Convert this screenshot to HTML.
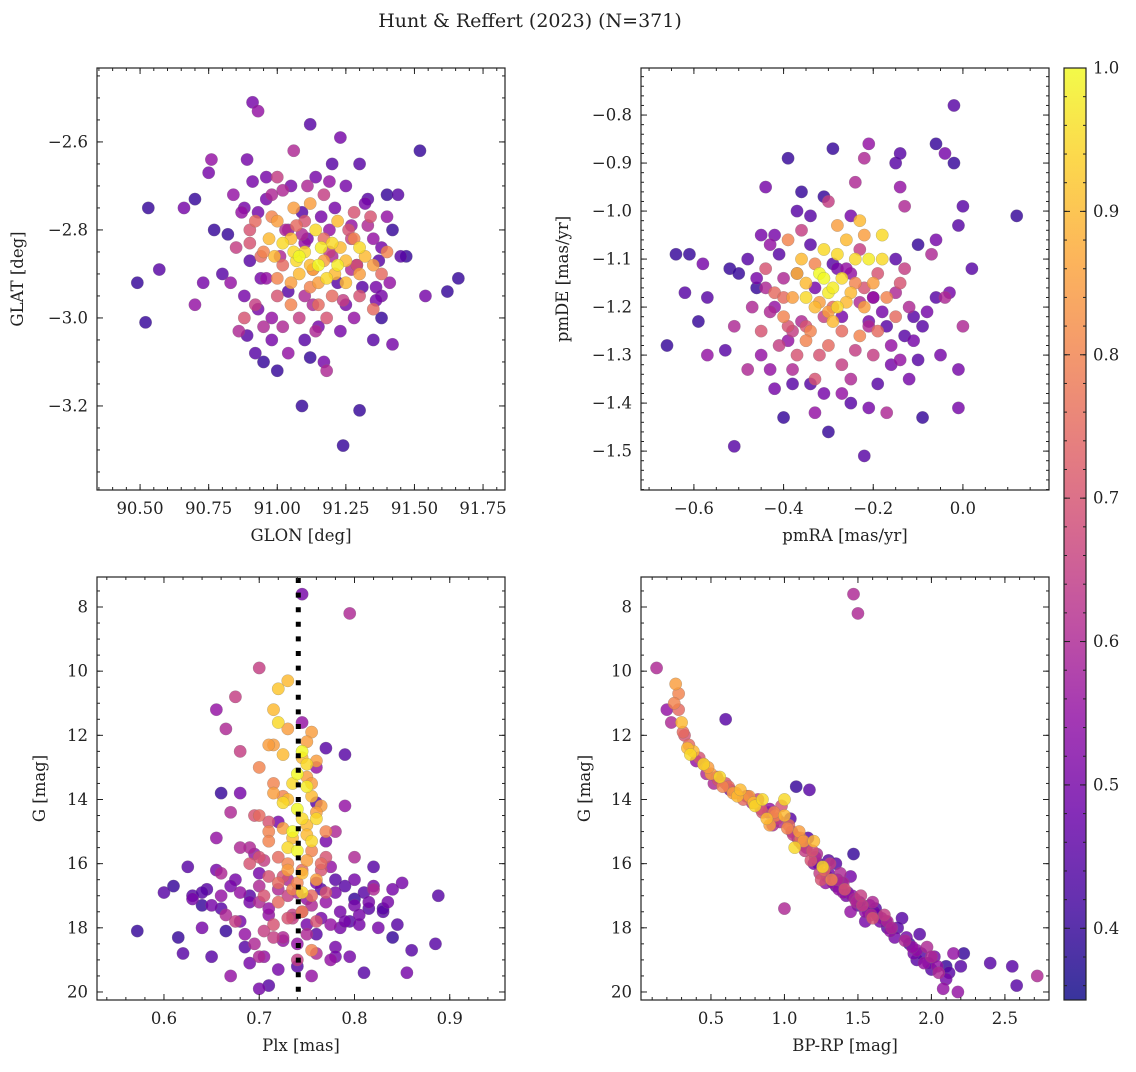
<!DOCTYPE html>
<html><head><meta charset="utf-8">
<style>
body{margin:0;background:#fff;}
svg text{font-family:"DejaVu Serif","Liberation Serif",serif;fill:#222;}
</style></head>
<body>
<svg id="fig" width="1136" height="1067" viewBox="0 0 1136 1067" xmlns="http://www.w3.org/2000/svg">
<rect width="1136" height="1067" fill="#fff"/>
<text x="530" y="27" font-size="19" text-anchor="middle">Hunt &amp; Reffert (2023) (N=371)</text>
<defs>
<linearGradient id="cbgrad" x1="0" y1="1" x2="0" y2="0">
<stop offset="0" stop-color="#0d0887"/><stop offset="0.1" stop-color="#41049d"/><stop offset="0.2" stop-color="#6a00a8"/><stop offset="0.3" stop-color="#8f0da4"/><stop offset="0.4" stop-color="#b12a90"/><stop offset="0.5" stop-color="#cc4778"/><stop offset="0.6" stop-color="#e16462"/><stop offset="0.7" stop-color="#f2844b"/><stop offset="0.8" stop-color="#fca636"/><stop offset="0.9" stop-color="#fcce25"/><stop offset="1" stop-color="#f0f921"/>
</linearGradient>
</defs>
</svg>
<script>
// ---- Panel 1: GLON / GLAT ----
const p1Lon=[90.49,90.52,90.53,90.57,90.66,90.70,90.70,90.73,90.75,90.76,90.77,90.82,90.83,90.86,90.88,90.89,90.91,90.93,90.89,90.92,90.95,90.96,90.90,90.93,90.98,91.00,91.02,91.06,91.04,91.09,91.12,91.12,91.17,91.18,91.20,91.23,91.24,91.30,91.30,91.32,91.35,91.38,91.40,91.42,91.42,91.45,91.47,91.52,91.54,91.62,91.66,90.93,90.96,91.15,91.28,91.36,91.38,91.05,91.25,91.40,90.88,91.14,91.35,90.95,91.10,
91.0,91.05,91.1,91.15,91.2,91.25,91.3,91.08,91.12,91.18,91.22,90.95,91.02,91.28,91.32,91.06,91.14,90.92,90.97,91.1,91.2,91.25,91.35,91.0,91.05,91.15,90.9,91.3,91.4,91.08,91.16,91.02,91.22,91.12,90.85,91.3,91.35,90.88,91.18,91.0,91.28,91.38,91.12,91.05,91.2,90.98,91.17,91.1,
90.87,90.90,90.94,90.98,91.01,91.04,91.07,91.10,91.13,91.16,91.19,91.22,91.26,91.29,91.33,91.37,91.41,90.92,90.96,91.00,91.04,91.09,91.13,91.17,91.21,91.24,91.27,91.31,91.34,91.38,90.99,91.03,91.07,91.11,91.15,91.19,91.23,91.27,90.94,91.06,91.13,91.21,91.29,91.09,91.17,90.84,90.80,91.44,91.36,90.98,91.02,91.25,91.33,91.14,91.08,90.91,91.19,91.23,91.27,91.11];
const p1Lat=[-2.92,-3.01,-2.75,-2.89,-2.75,-2.73,-2.97,-2.92,-2.67,-2.64,-2.80,-2.81,-2.92,-3.03,-2.75,-2.64,-2.51,-2.53,-3.04,-3.08,-3.10,-2.68,-2.87,-2.98,-3.05,-3.12,-3.02,-2.62,-3.08,-3.20,-2.56,-3.09,-3.10,-3.12,-2.65,-2.59,-3.29,-3.21,-2.65,-2.74,-3.05,-3.00,-2.72,-3.06,-2.80,-2.86,-2.86,-2.62,-2.95,-2.94,-2.91,-2.76,-2.91,-3.02,-3.00,-2.93,-2.84,-2.70,-2.70,-2.77,-2.95,-2.68,-2.82,-3.02,-3.05,
-2.78,-2.82,-2.85,-2.88,-2.83,-2.87,-2.9,-2.9,-2.93,-2.91,-2.78,-2.85,-2.88,-2.82,-2.86,-2.75,-2.8,-2.78,-2.82,-2.78,-2.95,-2.92,-2.88,-2.95,-2.97,-2.97,-2.8,-2.84,-2.85,-2.86,-2.84,-2.83,-2.88,-2.74,-2.84,-2.95,-2.98,-3.0,-3.0,-2.68,-2.76,-2.9,-2.88,-2.92,-2.86,-2.72,-2.72,-2.95,
-2.76,-2.83,-2.91,-2.77,-2.86,-2.94,-2.79,-2.83,-2.89,-2.77,-2.85,-2.92,-2.80,-2.88,-2.79,-2.87,-2.92,-2.97,-2.73,-2.91,-2.80,-2.76,-2.97,-2.82,-2.75,-2.96,-2.79,-2.93,-2.77,-2.95,-2.86,-2.80,-2.87,-2.82,-2.92,-2.80,-2.84,-2.89,-2.86,-2.85,-2.89,-2.90,-2.88,-2.81,-2.87,-2.72,-2.90,-2.72,-2.96,-3.00,-2.71,-2.97,-2.73,-3.03,-3.00,-2.69,-2.69,-3.03,-2.82,-2.70];
const p1Prob=[0.4,0.4,0.4,0.45,0.5,0.4,0.55,0.5,0.5,0.55,0.4,0.4,0.55,0.6,0.5,0.5,0.5,0.55,0.45,0.45,0.4,0.5,0.45,0.5,0.5,0.4,0.6,0.6,0.55,0.4,0.45,0.4,0.5,0.6,0.45,0.5,0.4,0.4,0.45,0.5,0.45,0.4,0.4,0.5,0.4,0.45,0.4,0.4,0.5,0.4,0.4,0.5,0.55,0.5,0.55,0.5,0.5,0.5,0.5,0.55,0.5,0.5,0.55,0.6,0.45,
0.85,0.9,0.95,1.0,0.95,0.9,0.85,0.9,0.8,0.95,0.9,0.8,0.75,0.8,0.9,0.85,0.95,0.75,0.9,0.7,0.75,0.9,0.85,0.7,0.8,0.75,0.7,0.95,0.8,1.0,0.98,0.95,0.98,0.85,0.65,0.7,0.75,0.7,0.7,0.65,0.7,0.75,0.9,0.85,0.6,0.6,0.65,0.6,
0.55,0.7,0.5,0.8,0.6,0.45,0.75,0.55,0.85,0.5,0.65,0.45,0.7,0.5,0.6,0.45,0.55,0.65,0.5,0.8,0.55,0.45,0.6,0.75,0.5,0.65,0.55,0.45,0.7,0.5,0.9,0.6,0.95,0.5,0.85,0.55,0.9,0.6,0.75,0.95,0.8,0.9,0.7,0.6,0.85,0.55,0.45,0.45,0.5,0.55,0.6,0.5,0.45,0.6,0.65,0.5,0.55,0.5,0.65,0.6];
const p1XTicks=[90.50,90.75,91.00,91.25,91.50,91.75];
const p1YTicks=[-2.6,-2.8,-3.0,-3.2];

// ---- Panel 2: pmRA / pmDE ----
const p2Ra=[-0.66,-0.64,-0.61,-0.62,-0.59,-0.58,-0.57,-0.57,-0.53,-0.52,-0.51,-0.51,-0.5,-0.48,-0.46,-0.44,-0.43,-0.42,-0.40,-0.39,-0.37,-0.36,-0.34,-0.33,-0.31,-0.30,-0.29,-0.25,-0.24,-0.22,-0.22,-0.21,-0.21,-0.17,-0.15,-0.14,-0.14,-0.13,-0.12,-0.11,-0.10,-0.09,-0.08,-0.07,-0.06,-0.06,-0.05,-0.04,-0.03,-0.02,-0.02,-0.01,-0.01,0.0,0.0,0.02,0.12,-0.06,-0.1,-0.01,-0.04,
-0.35,-0.32,-0.3,-0.28,-0.33,-0.27,-0.25,-0.38,-0.36,-0.31,-0.29,-0.24,-0.22,-0.4,-0.42,-0.2,-0.18,-0.26,-0.34,-0.3,-0.37,-0.23,-0.19,-0.45,-0.44,-0.39,-0.28,-0.22,-0.17,-0.15,-0.14,-0.33,-0.27,-0.41,-0.47,-0.2,-0.31,-0.29,-0.26,-0.35,-0.21,-0.23,-0.18,-0.36,-0.4,-0.12,-0.25,-0.43,-0.3,-0.16,-0.38,-0.13,
-0.46,-0.43,-0.41,-0.39,-0.37,-0.35,-0.33,-0.31,-0.29,-0.27,-0.25,-0.23,-0.21,-0.19,-0.17,-0.15,-0.45,-0.42,-0.38,-0.34,-0.32,-0.28,-0.24,-0.2,-0.16,-0.13,-0.4,-0.36,-0.3,-0.26,-0.22,-0.18,-0.44,-0.39,-0.33,-0.27,-0.21,-0.15,-0.37,-0.32,-0.28,-0.24,-0.35,-0.29,-0.23,-0.48,-0.11,-0.09,-0.42,-0.31,-0.19,-0.27,-0.34,-0.25,-0.45,-0.14,-0.38,-0.2];
const p2De=[-1.28,-1.09,-1.09,-1.17,-1.23,-1.11,-1.18,-1.3,-1.29,-1.12,-1.49,-1.24,-1.13,-1.33,-1.16,-0.95,-1.07,-1.37,-1.43,-0.89,-1.0,-0.96,-1.36,-1.42,-0.97,-1.46,-0.87,-1.4,-0.94,-0.89,-1.51,-1.41,-0.86,-1.42,-0.9,-0.88,-0.95,-0.99,-1.35,-1.22,-1.07,-1.43,-1.21,-1.09,-1.06,-0.86,-1.3,-0.88,-1.17,-0.9,-0.78,-1.03,-1.33,-0.99,-1.24,-1.12,-1.01,-1.18,-1.31,-1.41,-1.18,
-1.15,-1.13,-1.17,-1.2,-1.2,-1.14,-1.17,-1.18,-1.1,-1.08,-1.23,-1.1,-1.2,-1.22,-1.17,-1.15,-1.1,-1.06,-1.25,-1.28,-1.3,-1.26,-1.25,-1.25,-1.12,-1.06,-1.03,-1.05,-1.18,-1.22,-1.15,-1.35,-1.32,-1.28,-1.2,-1.3,-1.14,-1.16,-1.19,-1.18,-1.1,-1.02,-1.05,-1.04,-1.14,-1.2,-1.35,-1.33,-0.98,-1.28,-1.25,-1.12,
-1.14,-1.21,-1.09,-1.24,-1.13,-1.27,-1.16,-1.22,-1.11,-1.25,-1.13,-1.19,-1.23,-1.13,-1.24,-1.17,-1.3,-1.05,-1.33,-1.07,-1.3,-1.12,-1.29,-1.18,-1.32,-1.26,-1.18,-1.23,-1.21,-1.12,-1.16,-1.21,-1.16,-1.27,-1.11,-1.22,-1.24,-1.1,-1.13,-1.19,-1.09,-1.15,-1.24,-1.2,-1.08,-1.1,-1.27,-1.24,-1.2,-1.38,-1.36,-1.38,-1.01,-1.01,-1.05,-1.31,-1.36,-1.18];
const p2Prob=[0.4,0.4,0.4,0.45,0.4,0.5,0.45,0.55,0.45,0.4,0.45,0.6,0.4,0.6,0.4,0.5,0.55,0.5,0.4,0.4,0.45,0.4,0.45,0.55,0.4,0.4,0.4,0.45,0.6,0.6,0.45,0.5,0.55,0.6,0.45,0.45,0.55,0.6,0.5,0.45,0.4,0.4,0.5,0.6,0.5,0.4,0.5,0.5,0.5,0.4,0.45,0.45,0.5,0.45,0.6,0.45,0.4,0.45,0.45,0.5,0.6,
0.9,1.0,0.98,0.95,0.9,0.95,0.9,0.85,0.9,0.95,0.9,0.95,0.85,0.8,0.75,0.85,0.95,0.9,0.8,0.75,0.7,0.8,0.75,0.7,0.7,0.8,0.85,0.85,0.8,0.75,0.7,0.7,0.65,0.65,0.6,0.65,1.0,0.98,0.9,0.95,0.98,0.9,0.95,0.65,0.6,0.6,0.6,0.55,0.65,0.55,0.65,0.65,
0.5,0.6,0.45,0.7,0.55,0.8,0.5,0.65,0.45,0.75,0.55,0.6,0.5,0.7,0.45,0.6,0.55,0.5,0.6,0.45,0.7,0.5,0.65,0.55,0.5,0.45,0.75,0.6,0.85,0.55,0.7,0.5,0.6,0.55,0.8,0.5,0.6,0.45,0.9,0.85,0.95,0.8,0.7,0.75,0.65,0.45,0.5,0.45,0.55,0.5,0.45,0.55,0.45,0.5,0.5,0.55,0.45,0.55];
const p2XTicks=[-0.6,-0.4,-0.2,0.0];
const p2YTicks=[-0.8,-0.9,-1.0,-1.1,-1.2,-1.3,-1.4,-1.5];

// ---- Panel 3: Plx / G ----
const p3Plx=[0.572,0.61,0.615,0.62,0.625,0.63,0.64,0.645,0.65,0.655,0.66,0.665,0.67,0.675,0.68,0.685,0.69,0.69,0.695,0.7,0.7,0.705,0.71,0.71,0.72,0.725,0.74,0.75,0.755,0.76,0.765,0.77,0.775,0.78,0.78,0.785,0.79,0.795,0.80,0.805,0.81,0.815,0.82,0.825,0.83,0.835,0.84,0.85,0.855,0.86,0.885,0.888,0.845,0.8,0.76,0.77,0.68,0.66,0.655,0.67,0.72,0.745,0.795,0.7,0.745,0.76,0.655,0.665,0.675,0.68,0.69,0.66,0.7,0.64,0.79,0.8,0.78,0.82,
0.72,0.73,0.715,0.72,0.73,0.715,0.725,0.745,0.75,0.74,0.735,0.75,0.755,0.73,0.74,0.745,0.75,0.725,0.735,0.755,0.74,0.75,0.73,0.745,0.76,0.735,0.755,0.72,0.745,0.73,0.76,0.715,0.765,0.77,0.71,0.7,0.71,0.755,0.76,0.725,0.71,0.705,0.765,0.77,0.755,0.74,0.695,0.7,0.715,0.75,0.73,0.745,0.76,0.75,
0.60,0.63,0.64,0.65,0.66,0.67,0.68,0.69,0.70,0.71,0.72,0.73,0.74,0.75,0.76,0.77,0.78,0.79,0.80,0.81,0.82,0.83,0.84,0.665,0.675,0.685,0.695,0.705,0.715,0.725,0.735,0.745,0.755,0.765,0.775,0.785,0.795,0.805,0.815,0.70,0.71,0.72,0.73,0.74,0.75,0.76,0.77,0.725,0.735,0.745,0.755,0.765,0.715,0.705,0.735,0.745,0.725,0.755,0.69,0.775,0.70,0.72,0.74,0.76,0.78,0.68,0.71,0.73,0.75,0.79];
const p3G=[18.1,16.7,18.3,18.8,16.1,17.0,17.3,16.8,18.9,16.2,17.4,18.1,19.5,16.5,17.8,18.6,19.1,17.0,15.7,16.3,19.9,18.9,19.8,17.6,19.3,18.4,19.2,17.9,19.5,18.2,16.8,12.4,19.0,18.6,16.5,17.5,12.6,18.9,16.5,17.9,19.4,17.2,16.1,18.0,17.5,17.2,18.3,16.6,19.4,18.7,18.5,17.0,17.9,17.1,14.1,15.3,13.8,13.8,15.2,14.4,14.7,7.6,8.2,9.9,11.6,13.0,11.2,11.8,10.8,12.5,15.5,16.3,17.2,18.0,14.2,15.8,15.0,16.8,
10.55,10.3,11.2,11.6,11.8,12.3,12.6,12.5,12.9,13.2,13.5,13.6,13.9,14.0,14.3,14.6,14.8,14.9,15.2,15.3,15.6,15.9,16.0,16.3,16.5,16.8,17.0,17.2,17.5,17.7,17.8,13.5,14.2,15.0,15.0,13.0,12.3,11.9,12.8,16.4,16.4,17.0,16.0,16.9,18.7,19.0,14.5,15.8,18.3,18.2,15.5,16.9,14.6,13.3,
16.9,17.1,16.9,17.3,17.0,16.7,16.9,17.2,16.7,17.4,16.8,17.0,16.9,17.1,16.6,17.2,16.9,16.7,17.3,16.9,16.7,17.4,16.8,17.6,17.8,18.2,18.5,18.1,17.9,18.3,17.6,17.5,17.3,17.7,17.9,18.0,17.8,17.6,17.4,14.5,15.3,15.8,16.2,16.6,15.1,14.4,15.8,14.1,15.0,16.2,15.6,16.2,13.8,15.9,17.7,12.7,13.9,13.5,16.0,16.1,18.9,16.6,18.5,18.8,18.9,15.5,14.7,16.5,12.2,17.8];
const p3Prob=[0.4,0.4,0.4,0.45,0.45,0.45,0.4,0.45,0.45,0.5,0.45,0.4,0.55,0.5,0.5,0.45,0.5,0.45,0.55,0.5,0.5,0.55,0.45,0.55,0.5,0.55,0.45,0.5,0.55,0.45,0.45,0.45,0.55,0.5,0.45,0.5,0.45,0.5,0.5,0.5,0.45,0.5,0.45,0.5,0.45,0.5,0.4,0.5,0.5,0.45,0.45,0.45,0.45,0.4,0.45,0.5,0.5,0.4,0.55,0.6,0.5,0.5,0.6,0.65,0.55,0.55,0.55,0.6,0.65,0.65,0.6,0.6,0.6,0.5,0.55,0.6,0.6,0.6,
0.92,0.9,0.9,0.95,0.85,0.85,0.9,1.0,0.95,1.0,0.95,0.98,0.9,0.9,1.0,0.95,0.9,0.85,0.9,0.95,1.0,0.85,0.8,0.9,0.85,0.8,0.75,0.75,0.8,0.7,0.7,0.8,0.85,0.8,0.8,0.8,0.85,0.85,0.85,0.7,0.7,0.7,0.75,0.7,0.8,0.65,0.7,0.7,0.65,0.6,0.95,0.95,0.95,0.85,
0.45,0.5,0.45,0.5,0.55,0.5,0.55,0.5,0.6,0.55,0.6,0.65,0.6,0.55,0.5,0.55,0.5,0.45,0.5,0.45,0.5,0.45,0.5,0.6,0.65,0.55,0.6,0.65,0.7,0.6,0.65,0.55,0.6,0.5,0.55,0.5,0.45,0.5,0.45,0.75,0.8,0.75,0.85,0.8,0.9,0.85,0.7,0.95,1.0,0.75,0.8,0.7,0.85,0.65,0.65,0.9,0.8,0.85,0.7,0.55,0.6,0.75,0.55,0.6,0.5,0.6,0.7,0.6,0.85,0.5];
const p3XTicks=[0.6,0.7,0.8,0.9];
const p3YTicks=[8,10,12,14,16,18,20];
const p3VLine=0.741;

// ---- Panel 4: BP-RP / G ----
const p4Col=[0.13,1.47,1.5,0.6,1.0,0.2,0.23,0.26,0.28,0.3,0.28,0.32,0.35,0.36,0.38,0.4,0.45,0.47,0.5,0.52,0.55,0.58,0.6,0.63,0.65,0.68,0.72,0.75,0.78,0.8,0.82,0.85,0.88,0.9,0.92,0.95,0.98,1.0,1.02,1.04,1.05,1.07,1.08,1.1,1.12,1.14,1.16,1.17,1.18,1.2,1.22,1.24,1.26,1.28,1.3,1.32,1.35,1.38,1.4,1.42,1.45,1.47,1.48,1.5,1.52,1.55,1.58,1.6,1.62,1.65,1.68,1.7,1.72,1.75,1.8,1.82,1.85,1.88,1.9,1.92,1.95,1.97,2.0,2.02,2.05,2.08,2.1,2.15,2.18,2.2,2.22,2.4,2.55,2.58,2.72,1.3,1.2,0.9,0.7,0.45,1.0,0.85,1.1,1.4,1.6,1.35,1.25,1.55,1.45,1.7,2.0,1.9,2.1,
0.25,0.31,0.34,0.42,0.48,0.54,0.62,0.67,0.74,0.79,0.84,0.89,0.94,0.97,1.03,1.06,1.09,1.13,1.15,1.19,1.21,1.23,1.27,1.29,1.31,1.33,1.36,1.39,1.41,1.43,1.46,1.49,1.51,1.53,1.57,1.59,1.63,1.66,1.69,1.73,1.77,1.83,1.87,1.93,1.98,2.04,2.12,0.56,0.76,0.93,1.11,1.37,1.61];
const p4G=[9.9,7.6,8.2,11.5,17.4,11.2,11.6,10.4,10.7,11.6,11.2,12.0,12.3,12.6,12.5,12.8,12.9,13.2,13.2,13.5,13.4,13.6,13.5,13.7,13.8,13.9,14.0,13.9,14.1,14.2,14.0,14.4,14.6,14.3,14.8,14.6,14.2,14.0,14.9,14.6,15.0,15.5,13.6,15.3,15.4,15.6,15.2,13.7,15.9,16.0,15.7,16.3,16.1,16.6,16.3,16.5,16.7,16.3,16.9,17.0,16.4,15.7,17.1,17.3,17.0,17.5,17.3,17.7,17.4,17.8,17.6,18.0,18.1,18.3,17.7,18.4,18.5,18.8,19.0,18.2,19.1,18.6,19.3,18.9,19.4,19.9,19.2,18.8,20.0,19.2,18.8,19.1,19.2,19.8,19.5,15.9,15.3,14.8,13.7,12.9,14.5,14.0,15.0,16.6,17.2,16.0,16.5,17.8,17.5,17.8,18.9,18.7,19.6,
11.0,11.9,12.4,12.7,13.0,13.3,13.6,13.8,13.9,14.1,14.3,14.4,14.5,14.7,14.8,15.1,15.2,15.3,15.5,15.6,15.8,16.0,16.2,16.4,16.0,16.6,16.5,16.6,16.8,16.9,17.0,17.2,17.2,17.3,17.5,17.6,17.6,17.7,17.8,18.0,18.0,18.3,18.6,18.8,19.1,19.2,19.4,13.3,13.9,14.4,15.2,16.8,17.5];
const p4Prob=[0.6,0.6,0.6,0.45,0.6,0.55,0.6,0.85,0.8,0.9,0.75,0.7,0.75,0.95,0.9,0.55,0.7,0.6,0.85,0.6,0.7,0.8,0.7,0.5,0.85,0.9,0.75,0.55,0.6,0.95,0.65,0.7,0.9,0.55,0.6,0.65,0.7,0.95,0.8,0.45,0.6,0.95,0.4,0.7,0.6,0.65,0.45,0.45,0.7,0.5,0.6,0.65,0.95,0.55,0.5,0.8,0.45,0.6,0.55,0.5,0.5,0.4,0.6,0.45,0.65,0.55,0.5,0.7,0.45,0.5,0.65,0.45,0.55,0.5,0.45,0.6,0.4,0.5,0.45,0.45,0.55,0.6,0.45,0.5,0.6,0.55,0.4,0.55,0.55,0.45,0.4,0.45,0.45,0.45,0.6,0.45,0.9,0.85,0.9,0.95,0.9,0.95,0.85,0.6,0.6,0.45,0.7,0.5,0.55,0.6,0.6,0.55,0.5,
0.8,0.75,0.9,0.7,0.85,0.6,0.75,0.8,0.65,0.9,0.7,0.55,0.8,0.6,0.75,0.65,0.5,0.85,0.55,0.7,0.6,0.45,0.75,0.5,0.65,0.55,0.6,0.45,0.7,0.5,0.55,0.6,0.45,0.65,0.5,0.6,0.45,0.55,0.5,0.6,0.45,0.5,0.55,0.45,0.5,0.55,0.45,0.95,0.85,0.8,0.75,0.55,0.5];
const p4XTicks=[0.5,1.0,1.5,2.0,2.5];
const p4YTicks=[8,10,12,14,16,18,20];

const cbTicks=[0.4,0.5,0.6,0.7,0.8,0.9,1.0];
const cMin=0.35,cMax=1.0;

const NS="http://www.w3.org/2000/svg";
const svg=document.getElementById('fig');
const stops=[[0,13,8,135],[0.1,65,4,157],[0.2,106,0,168],[0.3,143,13,164],[0.4,177,42,144],[0.5,204,71,120],[0.6,225,100,98],[0.7,242,132,75],[0.8,252,166,54],[0.9,252,206,37],[1,240,249,33]];
function plasma(v){
  let t=Math.max(0,Math.min(1,(v-cMin)/(cMax-cMin)));
  for(let i=1;i<stops.length;i++){ if(t<=stops[i][0]){const a=stops[i-1],b=stops[i];const f=(t-a[0])/(b[0]-a[0]);
    return `rgb(${Math.round(a[1]+f*(b[1]-a[1]))},${Math.round(a[2]+f*(b[2]-a[2]))},${Math.round(a[3]+f*(b[3]-a[3]))})`;}}
  return 'rgb(240,249,33)';
}
function mk(tag,attrs,parent){const e=document.createElementNS(NS,tag);for(const k in attrs)e.setAttribute(k,attrs[k]);(parent||svg).appendChild(e);return e;}
function fmt(v,d){return (v<0?'\u2212':'')+Math.abs(v).toFixed(d);}

function panel(o){
  const g=mk('g',{});
  
  
  const {x0,x1,y0,y1,xmin,xmax,ymin,ymax}=o;
  const sx=v=>x0+(v-xmin)/(xmax-xmin)*(x1-x0);
  const sy=v=>o.invert? y0+(v-ymin)/(ymax-ymin)*(y1-y0) : y1-(v-ymin)/(ymax-ymin)*(y1-y0);
  const idx=o.xs.map((_,i)=>i).sort((a,b)=>o.cs[a]-o.cs[b]);
  const pg=mk('g',{},g);
  
  
  idx.forEach(i=>{
    const c=mk('circle',{cx:sx(o.xs[i]),cy:sy(o.ys[i]),r:6.2,fill:plasma(o.cs[i]),'fill-opacity':0.82,stroke:'#777','stroke-width':0.4,'stroke-opacity':0.6},pg);
    
    
  });
  if(o.vline!==undefined){
    const l=mk('line',{x1:sx(o.vline),x2:sx(o.vline),y1:y0+1,y2:y1,stroke:'#000','stroke-width':5,'stroke-dasharray':'5,9.6'},g);
    
    
  }
  const fr=mk('rect',{x:x0,y:y0,width:x1-x0,height:y1-y0,fill:'none',stroke:'#222','stroke-width':1.2},g);
  
  
  const tick=(x,y,dx,dy)=>mk('line',{x1:x,y1:y,x2:x+dx,y2:y+dy,stroke:'#222','stroke-width':1},g);
  const step=o.xTicks[1]-o.xTicks[0], ms=step/o.xMinor;
  for(let v=o.xTicks[0]-10*step;v<=xmax+1e-9;v+=ms){ if(v<xmin-1e-9)continue; const x=sx(v); tick(x,y1,0,-3); tick(x,y0,0,3);}
  const ystep=Math.abs(o.yTicks[1]-o.yTicks[0]), yms=ystep/o.yMinor;
  const ylo=Math.min(...o.yTicks);
  for(let v=ylo-10*ystep;v<=ymax+1e-9;v+=yms){ if(v<ymin-1e-9)continue; const y=sy(v); tick(x0,y,3,0); tick(x1,y,-3,0);}
  o.xTicks.forEach(v=>{const x=sx(v);tick(x,y1,0,-6);tick(x,y0,0,6);
    const t=mk('text',{x:x,y:y1+24,'font-size':16.5,'text-anchor':'middle'},g);t.textContent=fmt(v,o.xDec);
    
    });
  o.yTicks.forEach(v=>{const y=sy(v);tick(x0,y,6,0);tick(x1,y,-6,0);
    const t=mk('text',{x:x0-9,y:y+5.5,'font-size':16.5,'text-anchor':'end'},g);t.textContent=fmt(v,o.yDec);
    
    });
  const xl=mk('text',{x:(x0+x1)/2,y:y1+51,'font-size':16.5,'text-anchor':'middle'},g);xl.textContent=o.xlabel;
  
  
  const yl=mk('text',{x:0,y:0,'font-size':16.5,'text-anchor':'middle',transform:`translate(${o.ylx},${(y0+y1)/2}) rotate(-90)`},g);yl.textContent=o.ylabel;
  
  
}

panel({name:'glon-glat-panel',x0:97,x1:505,y0:68,y1:490,xmin:90.343,xmax:91.830,ymin:-3.391,ymax:-2.432,xs:p1Lon,ys:p1Lat,cs:p1Prob,xTicks:p1XTicks,yTicks:p1YTicks,xMinor:5,yMinor:4,xDec:2,yDec:1,xlabel:'GLON [deg]',ylabel:'GLAT [deg]',ylx:23});
panel({name:'proper-motion-panel',x0:641,x1:1049,y0:68,y1:490,xmin:-0.718,xmax:0.192,ymin:-1.581,ymax:-0.702,xs:p2Ra,ys:p2De,cs:p2Prob,xTicks:p2XTicks,yTicks:p2YTicks,xMinor:4,yMinor:5,xDec:1,yDec:1,xlabel:'pmRA [mas/yr]',ylabel:'pmDE [mas/yr]',ylx:568});
panel({name:'parallax-magnitude-panel',x0:97,x1:505,y0:577,y1:1000,xmin:0.5297,xmax:0.958,ymin:7.065,ymax:20.25,invert:true,xs:p3Plx,ys:p3G,cs:p3Prob,xTicks:p3XTicks,yTicks:p3YTicks,xMinor:5,yMinor:4,xDec:1,yDec:0,xlabel:'Plx [mas]',ylabel:'G [mag]',ylx:45,vline:p3VLine});
panel({name:'color-magnitude-panel',x0:641,x1:1049,y0:577,y1:1000,xmin:0.024,xmax:2.80,ymin:7.065,ymax:20.25,invert:true,xs:p4Col,ys:p4G,cs:p4Prob,xTicks:p4XTicks,yTicks:p4YTicks,xMinor:5,yMinor:4,xDec:1,yDec:0,xlabel:'BP-RP [mag]',ylabel:'G [mag]',ylx:590});

const cb=mk('g',{});


const cbx0=1064,cbx1=1086,cby0=68,cby1=1000;
mk('rect',{x:cbx0,y:cby0,width:cbx1-cbx0,height:cby1-cby0,fill:'url(#cbgrad)','fill-opacity':0.82},cb);
mk('rect',{x:cbx0,y:cby0,width:cbx1-cbx0,height:cby1-cby0,fill:'none',stroke:'#222','stroke-width':1.2},cb);
const cy=v=>cby1-(v-cMin)/(cMax-cMin)*(cby1-cby0);
for(let v=0.36;v<=1.0001;v+=0.02){const y=cy(v);mk('line',{x1:cbx0,x2:cbx0+3,y1:y,y2:y,stroke:'#222'},cb);mk('line',{x1:cbx1,x2:cbx1-3,y1:y,y2:y,stroke:'#222'},cb);}
cbTicks.forEach(v=>{const y=cy(v);mk('line',{x1:cbx0,x2:cbx0+6,y1:y,y2:y,stroke:'#222'},cb);mk('line',{x1:cbx1,x2:cbx1-6,y1:y,y2:y,stroke:'#222'},cb);
  const t=mk('text',{x:cbx1+7,y:y+5.5,'font-size':16.5},cb);t.textContent=v.toFixed(1);
  
  });
</script>
</body></html>
